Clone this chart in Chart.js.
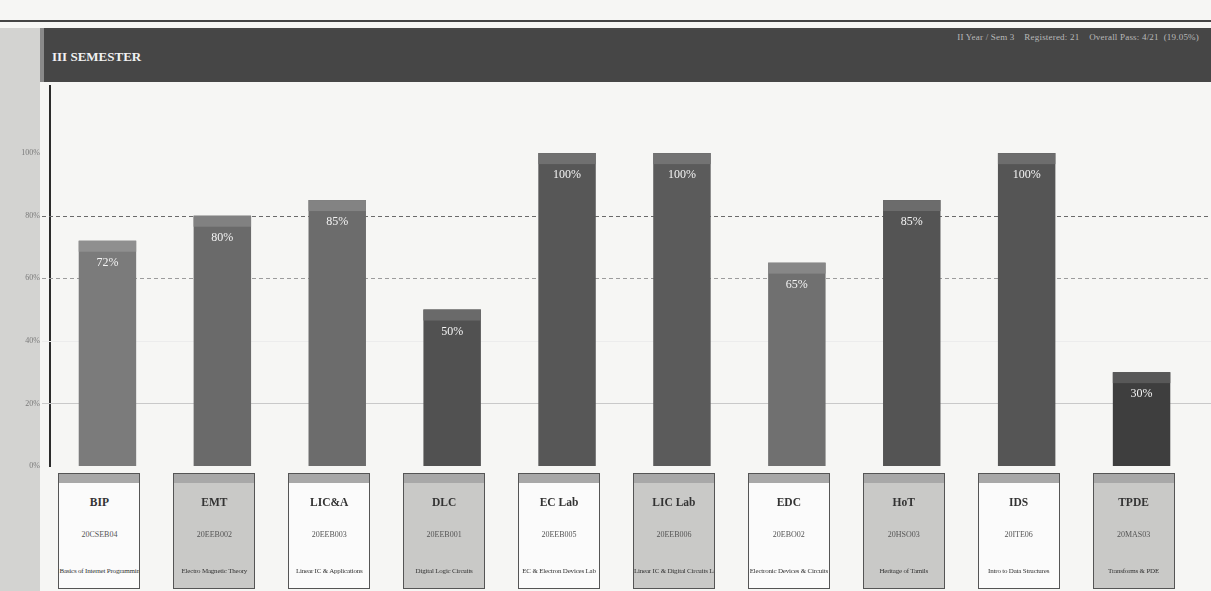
<!DOCTYPE html>
<html>
<head>
<meta charset="utf-8">
<script src="https://cdn.jsdelivr.net/npm/chart.js@4"></script>
<style>
    html, body { margin: 0; padding: 0; }
    body { width: 1211px; height: 591px; background: #f6f6f4; position: relative; overflow: hidden; font-family: "Liberation Serif", "DejaVu Serif", serif; }
    #topLine { position: absolute; left: 0; top: 20px; width: 1211px; height: 2px; background: #444; }
    #leftStrip { position: absolute; left: 0; top: 28px; width: 40px; height: 563px; background: #d3d3d1; }
    #header { position: absolute; left: 40px; top: 28px; width: 1171px; height: 54px; background: #464646; border-left: 4px solid #8a8a8a; box-sizing: border-box; z-index: 2; }
    #header .title { position: absolute; left: 8px; top: 21px; color: #f2f2f2; font-weight: bold; font-size: 13px; }
    #header .info { position: absolute; right: 12px; top: 4px; color: #b9b9b9; font-size: 9px; letter-spacing: 0.2px; white-space: pre; }
    #chartWrap { position: absolute; left: 0; top: 82px; width: 1211px; height: 509px; }
    .subj { position: absolute; width: 82px; height: 116px; border: 1px solid #555; box-sizing: border-box; text-align: center; color: #333; overflow: hidden; }
    .subj .band { height: 9px; background: #a8a8a8; }
    .subj .abbr { font-weight: bold; font-size: 11.5px; margin-top: 13px; }
    .subj .code { font-size: 8px; margin-top: 22px; color: #555; }
    .subj .name { font-size: 7px; margin-top: 28px; white-space: nowrap; letter-spacing: -0.2px; }
    .subj.white { background: #fbfbfb; }
    .subj.gray { background: #c9c9c7; }
</style>
</head>
<body>
<div id="topLine"></div>
<div id="leftStrip"></div>
<div id="header">
    <div class="title">III SEMESTER</div>
    <div class="info">II Year / Sem 3    Registered: 21    Overall Pass: 4/21  (19.05%)</div>
</div>
<div id="chartWrap"><canvas id="passChart"></canvas></div>

<script>
// ===== Datos =====
const subjects = ['BIP', 'EMT', 'LIC&A', 'DLC', 'EC Lab', 'LIC Lab', 'EDC', 'HoT', 'IDS', 'TPDE'];
const subjectCodes = ['20CSEB04', '20EEB002', '20EEB003', '20EEB001', '20EEB005', '20EEB006', '20EBO02', '20HSO03', '20ITE06', '20MAS03'];
const subjectNames = ['Basics of Internet Programming', 'Electro Magnetic Theory', 'Linear IC & Applications',
    'Digital Logic Circuits', 'EC & Electron Devices Lab', 'Linear IC & Digital Circuits Lab',
    'Electronic Devices & Circuits', 'Heritage of Tamils', 'Intro to Data Structures', 'Transforms & PDE'];
const passPercent = [72, 80, 85, 50, 100, 100, 65, 85, 100, 30];
const yTicks = [0, 20, 40, 60, 80, 100];

// Colores (impresión en gris)
const barColors = ['#7b7b7b', '#6a6a6a', '#6c6c6c', '#515151', '#575757', '#5b5b5b', '#707070', '#545454', '#555555', '#3e3e3e'];
const capColors = ['#8f8f8f', '#818181', '#838383', '#6a6a6a', '#707070', '#737373', '#878787', '#6c6c6c', '#6d6d6d', '#585858'];
const gridStyles = {
    20: { color: '#c9c9c9', dash: [] },
    40: { color: '#ececec', dash: [] },
    60: { color: '#9c9c9c', dash: [4, 3] },
    80: { color: '#6a6a6a', dash: [4, 3] }
};

// Líneas de la cuadrícula + prolongación del eje hasta la cabecera
const gridPlugin = {
    id: 'gridLines',
    beforeDatasetsDraw(chart) {
        const { ctx, chartArea, scales: { y } } = chart;
        ctx.save();
        Object.keys(gridStyles).forEach(v => {
            const st = gridStyles[v];
            const py = Math.round(y.getPixelForValue(Number(v))) + 0.5;
            ctx.strokeStyle = st.color;
            ctx.lineWidth = 1;
            ctx.setLineDash(st.dash);
            ctx.beginPath();
            ctx.moveTo(chartArea.left - 8, py);
            ctx.lineTo(chartArea.right + 15, py);
            ctx.stroke();
        });
        ctx.setLineDash([]);
        ctx.strokeStyle = '#2b2b2b';
        ctx.lineWidth = 2;
        ctx.beginPath();
        ctx.moveTo(chartArea.left, 3);
        ctx.lineTo(chartArea.left, chartArea.top + 1);
        ctx.stroke();
        ctx.restore();
    }
};

// Franja superior de cada barra + etiqueta
const capPlugin = {
    id: 'barCaps',
    afterDatasetsDraw(chart) {
        const { ctx } = chart;
        const meta = chart.getDatasetMeta(0);
        ctx.save();
        meta.data.forEach((bar, i) => {
            ctx.fillStyle = capColors[i];
            ctx.fillRect(bar.x - bar.width / 2, bar.y, bar.width, 11);
            ctx.fillStyle = '#f4f4f4';
            ctx.font = '12px "Liberation Serif", serif';
            ctx.textAlign = 'center';
            ctx.textBaseline = 'middle';
            ctx.fillText(passPercent[i] + '%', bar.x, bar.y + 22);
        });
        ctx.restore();
    }
};

// Cajas de asignaturas bajo el eje
const boxesPlugin = {
    id: 'subjectBoxes',
    afterRender(chart) {
        if (document.querySelector('.subj')) return;
        const x = chart.scales.x;
        subjects.forEach((s, i) => {
            const cx = x.getPixelForValue(i);
            const box = document.createElement('div');
            box.className = 'subj ' + (i % 2 === 0 ? 'white' : 'gray');
            box.style.left = (cx - 41 - 8) + 'px';
            box.style.top = (82 + chart.chartArea.bottom + 7) + 'px';
            box.innerHTML = '<div class="band"></div><div class="abbr"></div><div class="code"></div><div class="name"></div>';
            box.querySelector('.abbr').textContent = s;
            box.querySelector('.code').textContent = subjectCodes[i];
            box.querySelector('.name').textContent = subjectNames[i];
            document.body.appendChild(box);
        });
    }
};

new Chart(document.getElementById('passChart'), {
    type: 'bar',
    data: {
        labels: subjects,
        datasets: [{
            label: 'Pass %',
            data: passPercent,
            backgroundColor: barColors,
            borderWidth: 0,
            categoryPercentage: 1.0,
            barPercentage: 0.5
        }]
    },
    options: {
        responsive: true,
        maintainAspectRatio: false,
        animation: false,
        layout: { padding: { top: 2, right: 12, bottom: 125, left: 0 } },
        plugins: {
            legend: { display: false },
            tooltip: { enabled: false }
        },
        scales: {
            x: {
                ticks: { display: false },
                grid: { display: false, drawTicks: false },
                border: { display: false }
            },
            y: {
                min: 0,
                max: 118,
                afterFit: scale => { scale.width = 50; },
                afterBuildTicks: scale => { scale.ticks = yTicks.map(v => ({ value: v })); },
                ticks: {
                    color: '#7a7a7a',
                    font: { size: 8, family: '"Liberation Serif", serif' },
                    padding: 10,
                    callback: v => v + '%'
                },
                grid: { display: false, drawTicks: false },
                border: { display: true, color: '#2b2b2b', width: 2 }
            }
        }
    },
    plugins: [gridPlugin, capPlugin, boxesPlugin]
});
</script>
</body>
</html>
